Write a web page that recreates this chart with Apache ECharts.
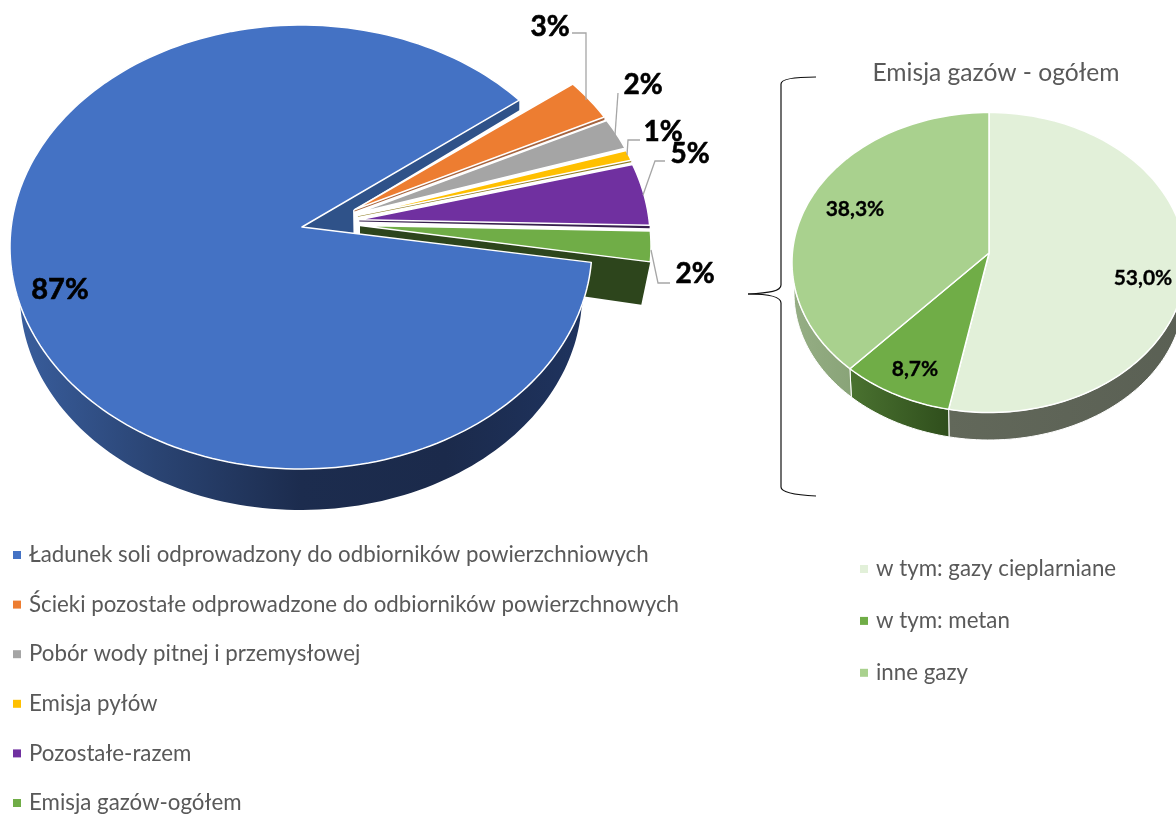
<!DOCTYPE html>
<html>
<head>
<meta charset="utf-8">
<style>html,body{margin:0;padding:0;background:#fff;overflow:hidden}#c{width:1176px;height:814px}</style>
<script src="https://cdn.jsdelivr.net/npm/echarts@6/dist/echarts.min.js"></script>
</head>
<body>
<div id="c"></div>
<script>
// ---- data ----
const mainCategories = [
  'Ładunek soli odprowadzony do odbiorników powierzchniowych',
  'Ścieki pozostałe odprowadzone do odbiorników powierzchnowych',
  'Pobór wody pitnej i przemysłowej',
  'Emisja pyłów',
  'Pozostałe-razem',
  'Emisja gazów-ogółem'
];
const mainValues = [86.5, 3.0, 2.35, 0.8, 4.9, 2.45];
const gasCategories = ['w tym: gazy cieplarniane', 'w tym: metan', 'inne gazy'];
const gasValues = [53.0, 8.7, 38.3];
const chartTitle = 'Emisja gazów - ogółem';

// ---- styles and layout ----
const mainColors = ['#4472c4', '#ed7d31', '#a5a5a5', '#ffc000', '#7030a0', '#70ad47'];
const gasColors = ['#e2f0d9', '#70ad47', '#a9d18e'];
const FONT = 'Lato, "Open Sans", sans-serif';
const WARP = -2.8; // perspective: apparent rim angle differs from the true slice angle
const mainGeo = {
  start: -4.4, rx: 291, ry: 222, cx: 301, cy: 247, ax: 302, ay: 227,
  brx: 281, bry: 215, bcy: 295,
  // exploded slices
  ex: 25, ecx: 335, ecy: 246.5, eax: 335, eay: 225.4
};
const gasGeo = { start: 90, rx: 197, ry: 150, cx: 989, cy: 262.5, ax: 989, ay: 253, brx: 195, bry: 147, bcy: 293 };
const stripStyle = [null, ['#a5643f', 3], null, ['#8f7d25', 2], ['#38204f', 3], null];
const mainLabelPos = [
  { x: 60, y: 290, size: 29 }, { x: 550, y: 27, size: 28 }, { x: 643, y: 85, size: 28 },
  { x: 663, y: 132, size: 28 }, { x: 690, y: 154, size: 28 }, { x: 695, y: 274, size: 28 }
];
const leaderPaths = [
  null,
  [[572, 33], [586, 33], [586, 100]],
  [[618, 93], [615, 135]],
  [[640, 140], [628, 140], [627, 155]],
  [[665, 161], [655, 161], [643, 195]],
  [[651, 250], [658, 283], [670, 283]]
];
const gasLabelPos = [{ x: 1143, y: 278 }, { x: 915, y: 369 }, { x: 855, y: 209 }];

function spans(values, start) {
  const total = values.reduce((a, b) => a + b, 0);
  let a = start;
  return values.map(v => {
    const s = a; a -= v / total * 360;
    return [s, a];
  });
}
const mainSpans = spans(mainValues, mainGeo.start);
const gasSpans = spans(gasValues, gasGeo.start);
const rad = d => d * Math.PI / 180;
function arc(cx, cy, rx, ry, from, to) {
  const n = Math.max(2, Math.ceil(Math.abs(to - from) / 1.5));
  const out = [];
  for (let i = 0; i <= n; i++) {
    const t = from + (to - from) * i / n;
    const d = rad(t + WARP * Math.sin(2 * rad(t)));
    out.push([cx + rx * Math.cos(d), cy - ry * Math.sin(d)]);
  }
  return out;
}
function mainFrame(i) {
  const g = mainGeo, [s, e] = mainSpans[i];
  if (i === 0) return { s, e, ax: g.ax, ay: g.ay, cx: g.cx, cy: g.cy };
  const m = rad((s + e) / 2), dx = g.ex * Math.cos(m), dy = -g.ex * Math.sin(m);
  return { s, e, ax: g.eax + dx, ay: g.eay + dy, cx: g.ecx + dx, cy: g.ecy + dy };
}
const lerp = (p, q, t) => [p[0] + (q[0] - p[0]) * t, p[1] + (q[1] - p[1]) * t];
const grad = (stops) => new echarts.graphic.LinearGradient(0, 0, 1, 0, stops.map((c, i) => ({ offset: i / (stops.length - 1), color: c })));
const poly = (points, style) => ({ type: 'polygon', shape: { points }, style });
const labelStyle = (text, x, y, size, weight) => ({ text, x, y, align: 'center', verticalAlign: 'middle', fill: '#000', stroke: '#000', lineWidth: weight, font: '700 ' + size + 'px ' + FONT });

function renderMainSide(params) {
  const i = params.dataIndex, g = mainGeo, f = mainFrame(i), out = [];
  if (i === 0) {
    const top = arc(g.cx, g.cy, g.rx, g.ry, f.s, f.s - 190);
    const bottom = arc(g.cx, g.bcy, g.brx, g.bry, f.s - 190, f.s);
    out.push(poly(top.concat(bottom), { fill: grad(['#3a5f9f', '#2a4473', '#1c2c4e', '#1b2a4b', '#1f3460']) }));
    const apex = [f.ax, f.ay];
    const rimHi = arc(g.cx, g.cy, g.rx, g.ry, f.e, f.e)[0];
    const rimLo = arc(g.cx, g.cy, g.rx, g.ry, f.s, f.s)[0];
    const a = lerp(apex, rimHi, 0.235), b = lerp(apex, rimLo, 0.178);
    out.push(poly([apex, rimHi, [rimHi[0], rimHi[1] + 10], [a[0], a[1] + 13], b], { fill: '#2f5289' }));
  } else if (i === mainValues.length - 1) {
    const apex = [f.ax, f.ay];
    const rim = arc(f.cx, f.cy, g.rx, g.ry, f.e, f.e)[0];
    const low = [rim[0] - 9, rim[1] + 43];
    out.push(poly([apex, rim, low, [low[0] - 62, low[1] - 9], [apex[0], apex[1] + 10]], { fill: '#2d451c' }));
  } else if (stripStyle[i]) {
    const apex = [f.ax, f.ay];
    const rim = arc(f.cx, f.cy, g.rx, g.ry, f.e, f.e)[0];
    const w = stripStyle[i][1];
    out.push(poly([apex, rim, [rim[0], rim[1] + w], [apex[0], apex[1] + w * 0.6]], { fill: stripStyle[i][0] }));
  }
  return { type: 'group', children: out };
}
function renderMainTop(params, api) {
  const i = params.dataIndex, g = mainGeo, f = mainFrame(i), out = [];
  const pts = [[f.ax, f.ay]].concat(arc(f.cx, f.cy, g.rx, g.ry, f.s, f.e));
  out.push(poly(pts, { fill: mainColors[i], stroke: '#fff', lineWidth: 1.5, lineJoin: 'round' }));
  if (leaderPaths[i]) out.push({ type: 'polyline', shape: { points: leaderPaths[i] }, style: { stroke: '#a6a6a6', lineWidth: 1.3, fill: null } });
  const p = mainLabelPos[i];
  out.push({ type: 'text', z2: 50, style: labelStyle(Math.round(api.value(0)) + '%', p.x, p.y, p.size, 0.6) });
  return { type: 'group', children: out };
}
const gasSideFill = [
  () => grad(['#62685a', '#5a6054']),
  () => grad(['#4a7230', '#2f4e1c']),
  () => grad(['#96ae85', '#6b8c5a'])
];
function renderGasSide(params) {
  const i = params.dataIndex, g = gasGeo, [s, e] = gasSpans[i];
  const pts = arc(g.cx, g.cy, g.rx, g.ry, s, e).concat(arc(g.cx, g.bcy, g.brx, g.bry, e, s));
  return poly(pts, { fill: gasSideFill[i](), stroke: '#fff', lineWidth: 1 });
}
function renderGasTop(params, api) {
  const i = params.dataIndex, g = gasGeo, [s, e] = gasSpans[i];
  const pts = [[g.ax, g.ay]].concat(arc(g.cx, g.cy, g.rx, g.ry, s, e));
  const p = gasLabelPos[i];
  return { type: 'group', children: [
    poly(pts, { fill: gasColors[i], stroke: '#fff', lineWidth: 1.5, lineJoin: 'round' }),
    { type: 'text', z2: 50, style: labelStyle(api.value(0).toFixed(1).replace('.', ',') + '%', p.x, p.y, 21, 0.3) }
  ] };
}
const custom = (name, values, renderItem, z) => ({
  type: 'custom', name, coordinateSystem: 'none', silent: true, animation: false, z,
  data: values.map(v => [v]), renderItem
});
// zero-radius pies feed the two legends with category names and colours
const legendFeed = (name, cats, values, colors) => ({
  type: 'pie', name, radius: [0, 0], center: [-50, -50], silent: true, animation: false,
  label: { show: false }, labelLine: { show: false },
  data: cats.map((c, i) => ({ name: c, value: values[i], itemStyle: { color: colors[i] } }))
});
const legendBase = {
  orient: 'vertical', icon: 'rect', itemWidth: 8, itemHeight: 8, selectedMode: false, padding: 0,
  textStyle: { fontFamily: FONT, fontSize: 22.3, color: '#595959', lineHeight: 20, padding: [0, 0, 0, 3] }
};
const braceStyle = { fill: null, stroke: '#111', lineWidth: 1.2 };
const bez = (x1, y1, cpx1, cpy1, cpx2, cpy2, x2, y2) => ({ type: 'bezierCurve', silent: true, shape: { x1, y1, cpx1, cpy1, cpx2, cpy2, x2, y2 }, style: braceStyle });
const seg = (x1, y1, x2, y2) => ({ type: 'line', silent: true, shape: { x1, y1, x2, y2 }, style: braceStyle });
const chart = echarts.init(document.getElementById('c'), null, { renderer: 'canvas' });
chart.setOption({
  animation: false,
  backgroundColor: '#fff',
  title: { text: chartTitle, left: 996, top: 61, textAlign: 'center', padding: 0,
    textStyle: { fontFamily: FONT, fontSize: 24.6, fontWeight: 'normal', color: '#595959' } },
  legend: [
    Object.assign({}, legendBase, { left: 13, top: 544, height: 300, itemGap: 27.6, data: mainCategories }),
    Object.assign({}, legendBase, { left: 860, top: 558, height: 200, itemGap: 29.9, data: gasCategories })
  ],
  graphic: [
    bez(816, 77, 795, 77, 781, 79, 781, 84), seg(781, 84, 781, 285),
    bez(781, 285, 781, 291, 770, 293, 748, 294), bez(748, 294, 770, 294, 781, 297, 781, 303),
    seg(781, 303, 781, 487), bez(781, 487, 781, 492, 795, 495, 816, 496)
  ],
  series: [
    legendFeed('main', mainCategories, mainValues, mainColors),
    legendFeed('gas', gasCategories, gasValues, gasColors),
    custom('mainSide', mainValues, renderMainSide, 2),
    custom('mainTop', mainValues, renderMainTop, 3),
    custom('gasSide', gasValues, renderGasSide, 2),
    custom('gasTop', gasValues, renderGasTop, 3)
  ]
});
</script>
</body>
</html>
